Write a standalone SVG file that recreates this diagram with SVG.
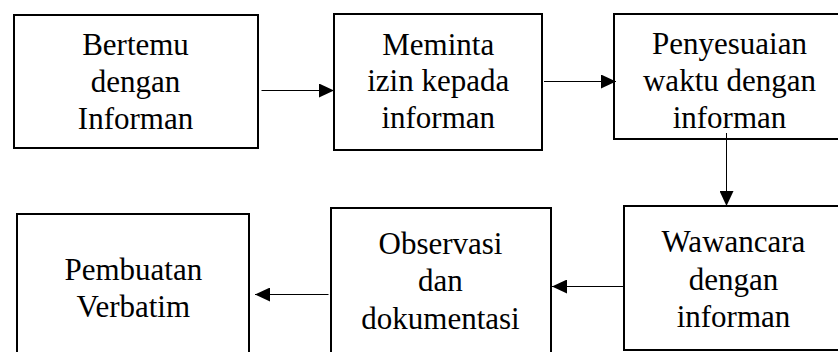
<svg xmlns="http://www.w3.org/2000/svg" width="838" height="352" viewBox="0 0 838 352">
<style>
.box{fill:#fff;stroke:#000;stroke-width:2}
.lbl{font-family:"Liberation Serif","Times New Roman",serif;font-size:31px;fill:#000;text-anchor:middle}
.conn{stroke:#000;stroke-width:1;fill:none}
</style>
<defs>
<marker id="ah" markerUnits="userSpaceOnUse" markerWidth="15" markerHeight="14" refX="15" refY="7" orient="auto">
<path d="M0,0 L15,7 L0,14 z" fill="#000"/>
</marker>
</defs>
<rect width="838" height="352" fill="#fff"/>
<g id="n1"><rect class="box" x="14" y="15" width="244" height="133"/>
<text class="lbl" x="135.5" y="55">Bertemu</text><text class="lbl" x="135.5" y="92">dengan</text><text class="lbl" x="135.5" y="128.5">Informan</text></g>
<g id="n2"><rect class="box" x="334" y="14" width="208" height="136"/>
<text class="lbl" x="438.2" y="54.5">Meminta</text><text class="lbl" x="438.2" y="91">izin kepada</text><text class="lbl" x="438.2" y="128">informan</text></g>
<g id="n3"><rect class="box" x="614" y="14" width="231" height="125"/>
<text class="lbl" x="729.5" y="54">Penyesuaian</text><text class="lbl" x="729.5" y="90.5">waktu dengan</text><text class="lbl" x="729.5" y="127.5">informan</text></g>
<g id="n4"><rect class="box" x="624" y="206" width="220" height="144"/>
<text class="lbl" x="733.5" y="251.5">Wawancara</text><text class="lbl" x="733.5" y="289.5">dengan</text><text class="lbl" x="733.5" y="326.5">informan</text></g>
<g id="n5"><rect class="box" x="331" y="208" width="220" height="152"/>
<text class="lbl" x="440.5" y="254">Observasi</text><text class="lbl" x="440.5" y="291">dan</text><text class="lbl" x="440.5" y="329">dokumentasi</text></g>
<g id="n6"><rect class="box" x="17" y="214" width="232" height="150"/>
<text class="lbl" x="133.3" y="280">Pembuatan</text><text class="lbl" x="133.3" y="317">Verbatim</text></g>
<g id="connectors">
<line class="conn" x1="261.5" y1="90.5" x2="334" y2="90.5" marker-end="url(#ah)"/>
<line class="conn" x1="544" y1="81.5" x2="616" y2="81.5" marker-end="url(#ah)"/>
<line class="conn" x1="726.5" y1="133" x2="726.5" y2="206" marker-end="url(#ah)"/>
<line class="conn" x1="623" y1="286.5" x2="552" y2="286.5" marker-end="url(#ah)"/>
<line class="conn" x1="328.5" y1="294.5" x2="255" y2="294.5" marker-end="url(#ah)"/>
</g>
</svg>
